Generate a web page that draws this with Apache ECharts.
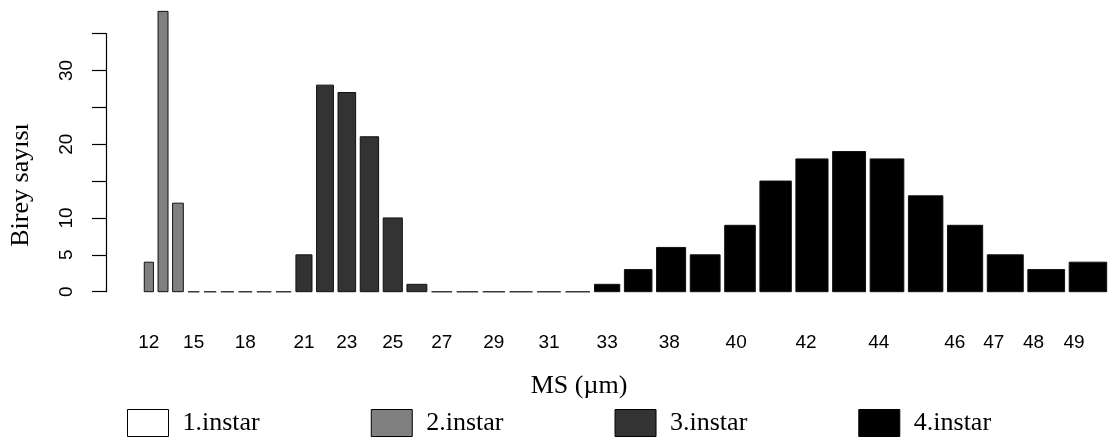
<!DOCTYPE html>
<html><head><meta charset="utf-8">
<script src="https://cdn.jsdelivr.net/npm/echarts@6/dist/echarts.min.js"></script>
<style>html,body{margin:0;padding:0;background:#fff}#c{width:1117px;height:443px}</style>
</head><body><div id="c"></div>
<script>
// ---- data ----
const msValues = [12,13,14,15,16,17,18,19,20,21,22,23,24,25,26,27,28,29,30,31,32,33,36,38,39,40,41,42,43,44,45,46,47,48,49];
const instar2Counts = [4,38,12,0,0,0,0,0,0];                 // MS 12-20
const instar3Counts = [5,28,27,21,10,1,0,0,0,0,0,0];          // MS 21-32
const instar4Counts = [1,3,6,5,9,15,18,19,18,13,9,5,3,4];     // MS 33-49
const xTickLabels = ['12','15','18','21','23','25','27','29','31','33','38','40','42','44','46','47','48','49'];
const yTickValues = [0,5,10,15,20,25,30,35];
const yTickLabels = ['0','5','10','','20','','30',''];
const seriesNames = ['1.instar','2.instar','3.instar','4.instar'];

// ---- layout (barplot with bar width proportional to MS, space = 0.2 * mean width) ----
const meanW = msValues.reduce((a,b)=>a+b,0)/msValues.length;
const gap = 0.2*meanW;
const lefts = [];
let cur = 0;
msValues.forEach(w => { lefts.push(cur); cur += w + gap; });
const centers = msValues.map((w,i)=>lefts[i]+w/2);

function buildData(counts, offset){
  return counts.map((v,k)=>{const i=offset+k; return [lefts[i], lefts[i]+msValues[i], v];});
}
const groups = [[], buildData(instar2Counts,0), buildData(instar3Counts,instar2Counts.length),
  buildData(instar4Counts,instar2Counts.length+instar3Counts.length)];
const fills = ['#ffffff','#808080','#333333','#000000'];

// label positions: at bar centers, with the slight drift seen in the reference beyond MS 33
const anchorIdx = msValues.indexOf(33);
const labelDrift = 0.971;
const labelPos = xTickLabels.map(t=>{
  const c = centers[msValues.indexOf(+t)];
  const a = centers[anchorIdx];
  return c <= a ? c : a + (c-a)*labelDrift;
});
function labelFor(v){
  let best=0, d=Infinity;
  labelPos.forEach((p,i)=>{ if(Math.abs(p-v)<d){d=Math.abs(p-v);best=i;} });
  return xTickLabels[best];
}

function renderBar(params, api){
  const x0 = api.value(0), x1 = api.value(1), v = api.value(2);
  const p0 = api.coord([x0, 0]);
  const p1 = api.coord([x1, v]);
  const h = p0[1]-p1[1];
  if (v === 0) {
    return {type:'rect', shape:{x:p0[0], y:p0[1], width:p1[0]-p0[0], height:0},
      style:{fill:'none', stroke:'#3a3a3a', lineWidth:1.6}};
  }
  return {type:'rect', shape:{x:p0[0], y:p1[1], width:p1[0]-p0[0], height:h},
    style:{fill: api.visual('color'), stroke:'#111', lineWidth:1}};
}

const chart = echarts.init(document.getElementById('c'), null, {renderer:'canvas'});
chart.setOption({
  animation:false,
  backgroundColor:'#fff',
  grid:{left:106, top:33.5, width:1010.2, height:258.2, containLabel:false, outerBoundsMode:'none'},
  xAxis:{type:'value', min:-50, max:1270,
    axisLine:{show:false}, axisTick:{show:false}, splitLine:{show:false},
    axisLabel:{customValues:labelPos, formatter:(v)=>labelFor(v), margin:42,
      fontFamily:'Liberation Sans', fontSize:19, color:'#000'}},
  yAxis:{type:'value', min:0, max:35, interval:5,
    axisLine:{show:true, onZero:false, lineStyle:{color:'#000', width:1.2}},
    axisTick:{show:true, length:14, lineStyle:{color:'#000', width:1.2}},
    splitLine:{show:false},
    axisLabel:{rotate:90, margin:30, fontFamily:'Liberation Sans', fontSize:19, color:'#000',
      formatter:(v)=>{const i=yTickValues.indexOf(v); return i>=0?yTickLabels[i]:'';}}},
  legend:{left:127, top:409, padding:0, itemWidth:41, itemHeight:27, itemGap:111, icon:'rect',
    selectedMode:false,
    itemStyle:{borderColor:'#000', borderWidth:1},
    textStyle:{fontFamily:'Liberation Serif', fontSize:26, color:'#000', padding:[0,0,0,9]},
    data:seriesNames},
  graphic:[
    {type:'text', x:21, y:185, rotation:Math.PI/2,
      style:{text:'Birey sayısı', fontFamily:'Liberation Serif', fontSize:26, fill:'#000', align:'center', verticalAlign:'middle'}},
    {type:'text', x:579, y:386,
      style:{text:'MS (µm)', fontFamily:'Liberation Serif', fontSize:26, fill:'#000', align:'center', verticalAlign:'middle'}}
  ],
  series: seriesNames.map((n,k)=>({
    name:n, type:'custom', clip:false, renderItem:renderBar,
    itemStyle:{color:fills[k], borderColor:'#000', borderWidth:1},
    encode:{x:[0,1], y:2},
    data:groups[k]
  }))
});
</script></body></html>
